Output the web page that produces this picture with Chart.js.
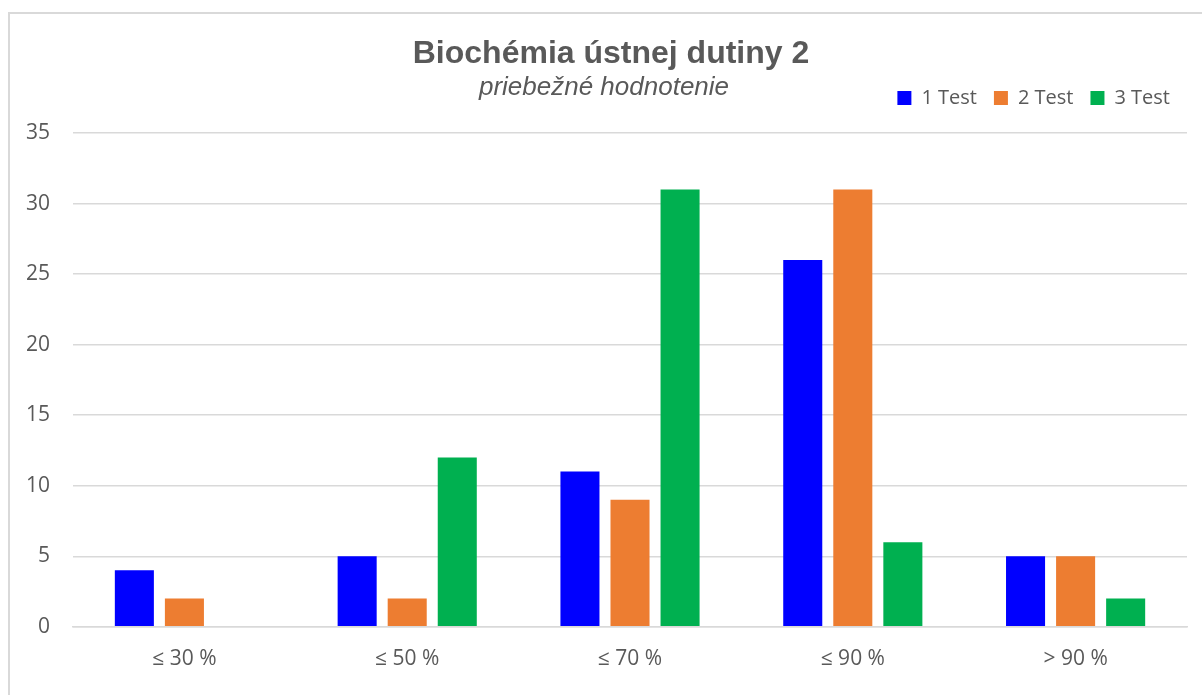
<!DOCTYPE html>
<html>
<head>
<meta charset="utf-8">
<script src="https://cdn.jsdelivr.net/npm/chart.js@4.4.1/dist/chart.umd.min.js"></script>
<style>
  html, body { margin: 0; padding: 0; background: #fff; }
  #wrap { position: relative; width: 1202px; height: 695px; }
</style>
</head>
<body>
<div id="wrap"><canvas id="gradeChart" width="1202" height="695"></canvas></div>
<script>
// Data
const categories = ['≤ 30 %', '≤ 50 %', '≤ 70 %', '≤ 90 %', '> 90 %'];
const test1 = [4, 5, 11, 26, 5];
const test2 = [2, 2, 9, 31, 5];
const test3 = [null, 12, 31, 6, 2];
const seriesNames = ['1 Test', '2 Test', '3 Test'];
const seriesColors = ['#0000ff', '#ed7d31', '#00b050'];

const textGray = '#595959';
const gridGray = '#d9d9d9';

// Title, subtitle and outer frame
const frameAndTitles = {
    id: 'frameAndTitles',
    afterInit(chart) {
        // leave some room between the legend and the plot area
        const legend = chart.legend;
        if (legend) {
            const fit = legend.fit.bind(legend);
            legend.fit = function () {
                fit();
                this.height += 15;
            };
        }
    },
    beforeDraw(chart) {
        const c = chart.ctx;
        c.save();
        c.fillStyle = '#fff';
        c.fillRect(0, 0, chart.width, chart.height);
        c.strokeStyle = gridGray;
        c.lineWidth = 2;
        c.strokeRect(9, 13, 1300, 800);
        c.restore();
    },
    afterDraw(chart) {
        const c = chart.ctx;
        c.save();
        c.fillStyle = textGray;
        c.textAlign = 'center';
        c.textBaseline = 'alphabetic';
        c.font = 'bold 32px "Liberation Sans", Arial, sans-serif';
        c.fillText('Biochémia ústnej dutiny 2', 611, 63);
        c.font = 'italic 26px "Liberation Sans", Arial, sans-serif';
        c.fillText('priebežné hodnotenie', 604, 95);
        c.restore();
    }
};

const ctx = document.getElementById('gradeChart').getContext('2d');
const gradeChart = new Chart(ctx, {
    type: 'bar',
    data: {
        labels: categories,
        datasets: [test1, test2, test3].map((values, i) => ({
            label: seriesNames[i],
            data: values,
            backgroundColor: seriesColors[i],
            borderWidth: 0
        }))
    },
    options: {
        responsive: false,
        animation: false,
        datasets: {
            bar: { categoryPercentage: 0.674, barPercentage: 0.78 }
        },
        layout: { padding: { top: 71, left: 3, right: 15, bottom: 11 } },
        scales: {
            x: {
                grid: { display: false },
                border: { display: true, color: gridGray, width: 1.5 },
                ticks: {
                    color: textGray,
                    font: { family: '"Open Sans", sans-serif', size: 21 },
                    padding: 12
                }
            },
            y: {
                min: 0,
                max: 35,
                ticks: {
                    stepSize: 5,
                    color: textGray,
                    font: { family: '"Open Sans", sans-serif', size: 21 },
                    padding: 23
                },
                grid: { color: gridGray, lineWidth: 1.5, drawTicks: false },
                border: { display: false }
            }
        },
        plugins: {
            legend: {
                position: 'top',
                align: 'end',
                labels: {
                    color: textGray,
                    font: { family: '"Open Sans", sans-serif', size: 20 },
                    boxWidth: 14,
                    boxHeight: 14,
                    padding: 17
                }
            },
            tooltip: { enabled: false }
        }
    },
    plugins: [frameAndTitles]
});
</script>
</body>
</html>
